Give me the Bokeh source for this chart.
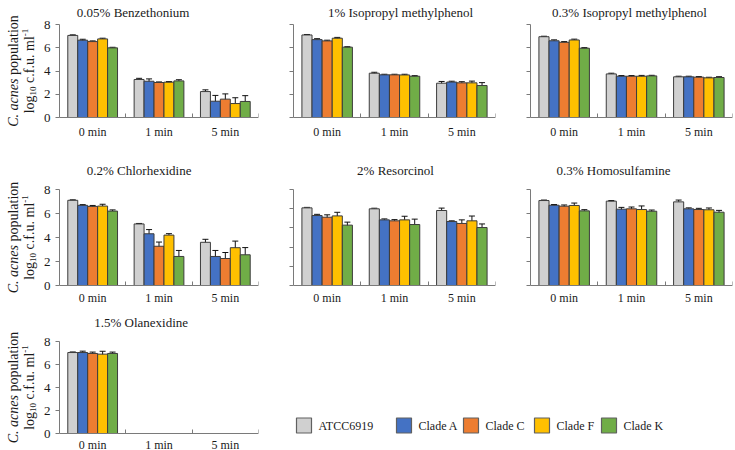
import math
from bokeh.plotting import figure
from bokeh.models import Range1d, FixedTicker, ColumnDataSource, Whisker, TeeHead
from bokeh.layouts import column, row
from bokeh.embed import file_html
from bokeh.resources import INLINE
from bokeh.core.properties import value

# ---------------- data ----------------
time_labels = ["0 min", "1 min", "5 min"]
strains = ["ATCC6919", "Clade A", "Clade C", "Clade F", "Clade K"]
colors = ["#D0D0D0", "#4472C4", "#ED7D31", "#FFC000", "#70AD47"]

# mean log10 c.f.u./ml per strain (rows) at 0, 1, 5 min ; sd likewise
benz_mean = [[7.06, 3.27, 2.23], [6.65, 3.12, 1.40], [6.53, 3.01, 1.58], [6.76, 3.04, 1.20], [5.99, 3.15, 1.38]]
benz_sd = [[0.05, 0.10, 0.15], [0.08, 0.20, 0.50], [0.06, 0.05, 0.45], [0.06, 0.05, 0.50], [0.05, 0.10, 0.50]]

ipmp1_mean = [[7.10, 3.81, 2.95], [6.70, 3.67, 3.05], [6.59, 3.67, 2.98], [6.82, 3.66, 2.98], [6.05, 3.55, 2.75]]
ipmp1_sd = [[0.04, 0.08, 0.15], [0.08, 0.05, 0.07], [0.06, 0.05, 0.10], [0.07, 0.06, 0.15], [0.04, 0.05, 0.25]]

ipmp03_mean = [[6.95, 3.75, 3.50], [6.60, 3.55, 3.50], [6.47, 3.55, 3.47], [6.67, 3.55, 3.41], [5.96, 3.58, 3.44]]
ipmp03_sd = [[0.04, 0.06, 0.05], [0.08, 0.06, 0.05], [0.06, 0.06, 0.05], [0.07, 0.07, 0.05], [0.05, 0.05, 0.07]]

chx_mean = [[7.10, 5.13, 3.60], [6.68, 4.31, 2.42], [6.59, 3.27, 2.25], [6.62, 4.20, 3.15], [6.20, 2.42, 2.56]]
chx_sd = [[0.04, 0.04, 0.25], [0.06, 0.35, 0.50], [0.08, 0.35, 0.50], [0.15, 0.12, 0.55], [0.10, 0.50, 0.60]]

res_mean = [[6.47, 6.39, 6.25], [5.83, 5.47, 5.33], [5.69, 5.39, 5.17], [5.80, 5.47, 5.39], [5.03, 5.08, 4.83]]
res_sd = [[0.04, 0.05, 0.20], [0.10, 0.08, 0.06], [0.20, 0.10, 0.30], [0.30, 0.30, 0.40], [0.25, 0.45, 0.30]]

hs_mean = [[7.08, 7.03, 6.97], [6.69, 6.36, 6.39], [6.61, 6.39, 6.33], [6.67, 6.33, 6.31], [6.22, 6.19, 6.11]]
hs_sd = [[0.04, 0.05, 0.15], [0.06, 0.15, 0.08], [0.10, 0.15, 0.10], [0.20, 0.30, 0.15], [0.10, 0.10, 0.15]]

olx_mean = [[7.04, None, None], [7.04, None, None], [6.96, None, None], [6.90, None, None], [6.96, None, None]]
olx_sd = [[0.05, None, None], [0.12, None, None], [0.12, None, None], [0.25, None, None], [0.12, None, None]]

y_ticks = [0, 2, 4, 6, 8]
res_ticks = [0, 1.6, 3.2, 4.8, 6.4, 8]

FONT = "Liberation Serif"
AXIS_COLOR = "#7a7a7a"
TEXT_COLOR = "#1a1a1a"
BAR_LINE = "#3c3c3c"
BW = 0.15
YMAX = 8

# Times New Roman advance widths (per 1000 em) for the y-label glyphs
W_ROMAN = {" ": 250, ".": 250, "-": 333, "0": 500, "1": 500, "C": 667, "a": 444, "c": 444, "e": 444,
           "f": 333, "g": 500, "i": 278, "l": 278, "m": 778, "n": 500, "o": 500, "p": 500, "s": 389,
           "t": 278, "u": 500}
W_ITAL = {" ": 250, ".": 250, "C": 667, "a": 500, "c": 444, "e": 444, "n": 500, "s": 389}


def text_width(s, size, italic=False):
    table = W_ITAL if italic else W_ROMAN
    return sum(table.get(ch, 500) for ch in s) * size / 1000.0


def style_fig(p):
    p.outline_line_color = None
    p.grid.visible = False
    p.background_fill_color = "white"
    p.border_fill_color = "white"


def pixel_fig(width, height):
    """Axis-less helper figure whose data units are canvas pixels (y measured from the bottom)."""
    p = figure(width=width, height=height, x_range=Range1d(0, width), y_range=Range1d(0, height),
               output_backend="svg", toolbar_location=None, title=None, min_border=0,
               x_axis_location=None, y_axis_location=None)
    style_fig(p)
    return p


def make_ylabel_fig(width, height, top_px, axis_px):
    """Two-line rotated y-axis title with italic and sub/superscript parts."""
    p = pixel_fig(width, height)
    center = height - (top_px + axis_px) / 2.0
    lines = [
        (12.5, [("C. acnes", 14, "italic", 0), (" population", 14, "normal", 0)]),
        (29.0, [("log", 14, "normal", 0), ("10", 9, "normal", 3), (" c.f.u. ml", 14, "normal", 0),
                ("-1", 9, "normal", -5)]),
    ]
    xs, ys, texts, sizes, styles = [], [], [], [], []
    for base_x, segs in lines:
        total = sum(text_width(t, s, st == "italic") for t, s, st, _ in segs)
        cum = center - total / 2.0
        for t, s, st, shift in segs:
            stripped = t.lstrip(" ")
            lead = text_width(t[: len(t) - len(stripped)], s, st == "italic")
            xs.append(base_x + shift)
            ys.append(cum + lead)
            texts.append(stripped)
            sizes.append(f"{s}px")
            styles.append(st)
            cum += text_width(t, s, st == "italic")
    src = ColumnDataSource(dict(x=xs, y=ys, text=texts, size=sizes, style=styles))
    p.text(x="x", y="y", text="text", source=src, angle=math.pi / 2, text_align="left",
           text_baseline="alphabetic", text_font=value(FONT), text_font_size="size",
           text_font_style="style", text_color=TEXT_COLOR)
    return p


def make_panel(title, mean, sd, width, height, bl, br, top_px, axis_px, title_cx, title_cy,
               show_labels, standoff, yt=y_ticks):
    # the frame fills the full canvas height; y=0 sits at axis_px, y=8 at top_px (from the top)
    frame_w = width - bl - br
    ppu = (axis_px - top_px) / YMAX
    y_end = YMAX + top_px / ppu
    y_start = -(height - axis_px) / ppu
    p = figure(width=width, height=height, x_range=Range1d(0, 3), y_range=Range1d(y_start, y_end),
               output_backend="svg", toolbar_location=None, title=None,
               min_border_left=bl, min_border_right=br, min_border_top=0, min_border_bottom=0)
    style_fig(p)

    xs, tops, fills, up, lo, wx = [], [], [], [], [], []
    for j in range(len(strains)):
        for i in range(len(time_labels)):
            v = mean[j][i]
            if v is None:
                continue
            x = i + 0.5 + (j - 2) * BW
            xs.append(x)
            tops.append(v)
            fills.append(colors[j])
            e = sd[j][i]
            if e is not None:
                wx.append(x)
                up.append(v + e)
                lo.append(v - e)
    src = ColumnDataSource(dict(x=xs, top=tops, fill=fills))
    p.vbar(x="x", top="top", bottom=0, width=BW, fill_color="fill", line_color=BAR_LINE,
           line_width=1, source=src)
    wsrc = ColumnDataSource(dict(x=wx, upper=up, lower=lo))
    p.add_layout(Whisker(base="x", upper="upper", lower="lower", source=wsrc, dimension="height",
                         line_color="#111111", line_width=1,
                         upper_head=TeeHead(size=6, line_color="#111111", line_width=1),
                         lower_head=TeeHead(size=6, line_color="#111111", line_width=1)))

    xa = p.xaxis[0]
    xa.fixed_location = 0
    xa.ticker = FixedTicker(ticks=[0.5, 1.5, 2.5], minor_ticks=[0, 1, 2, 3])
    xa.major_label_overrides = {0.5: time_labels[0], 1.5: time_labels[1], 2.5: time_labels[2]}
    xa.major_tick_in = 0
    xa.major_tick_out = 0
    xa.minor_tick_in = 4
    xa.minor_tick_out = 0
    xa.major_label_standoff = standoff
    xa.axis_line_color = AXIS_COLOR
    xa.minor_tick_line_color = AXIS_COLOR
    xa.major_label_text_font = FONT
    xa.major_label_text_font_size = "12px"
    xa.major_label_text_color = TEXT_COLOR

    ya = p.yaxis[0]
    ya.bounds = (0, YMAX)
    ya.ticker = FixedTicker(ticks=yt, minor_ticks=[])
    ya.major_tick_in = 0
    ya.major_tick_out = 4
    ya.minor_tick_out = 0
    ya.minor_tick_in = 0
    ya.axis_line_color = AXIS_COLOR
    ya.major_tick_line_color = AXIS_COLOR
    ya.major_label_standoff = 5
    ya.major_label_text_font = FONT
    ya.major_label_text_font_size = "13px"
    ya.major_label_text_color = TEXT_COLOR
    if not show_labels:
        ya.major_label_overrides = {t: "" for t in yt}

    # panel title, placed inside the (extended) frame above the y-axis top
    tx = (title_cx - bl) / frame_w * 3
    ty = y_end - title_cy / ppu
    p.text(x=[tx], y=[ty], text=[title], text_align="center", text_baseline="middle",
           text_font=value(FONT), text_font_size=value("13px"), text_color=TEXT_COLOR)
    return p


YL_W = 40
# row 1 (height 150): y=8 at 24 px, y=0 at 117 px
H1, T1, A1 = 150, 24, 117
y11 = make_ylabel_fig(YL_W, H1, T1, A1)
p11 = make_panel("0.05% Benzethonium", benz_mean, benz_sd, 230, H1, 18, 12, T1, A1, 132 - YL_W, 12, True, 7)
p12 = make_panel("1% Isopropyl methylphenol", ipmp1_mean, ipmp1_sd, 240, H1, 23, 15, T1, A1, 107 + 23, 12, False, 7)
p13 = make_panel("0.3% Isopropyl methylphenol", ipmp03_mean, ipmp03_sd, 225, H1, 20, 3, T1, A1, 99 + 20, 12, False, 7)
# row 2 (height 158)
H2, T2, A2 = 158, 39, 135
y21 = make_ylabel_fig(YL_W, H2, T2, A2)
p21 = make_panel("0.2% Chlorhexidine", chx_mean, chx_sd, 230, H2, 18, 12, T2, A2, 138 - YL_W, 20, True, 5)
p22 = make_panel("2% Resorcinol", res_mean, res_sd, 240, H2, 23, 15, T2, A2, 102 + 23, 20, False, 5, res_ticks)
p23 = make_panel("0.3% Homosulfamine", hs_mean, hs_sd, 225, H2, 20, 3, T2, A2, 83 + 20, 20, False, 5)
# row 3 (height 142)
H3, T3, A3 = 142, 33, 125
y31 = make_ylabel_fig(YL_W, H3, T3, A3)
p31 = make_panel("1.5% Olanexidine", olx_mean, olx_sd, 230, H3, 18, 12, T3, A3, 140 - YL_W, 14, True, 4)

# legend panel (drawn in pixel coordinates of its own figure)
LW = 465
pl = pixel_fig(LW, H3)
legend_left = [26, 126, 193, 264, 331]
SW = 15
LEG_Y = 25
pl.rect(x=[l + SW / 2 for l in legend_left], y=[LEG_Y] * len(strains), width=SW, height=SW,
        fill_color=colors, line_color="#606060", line_width=1.2)
pl.text(x=[l + SW + 7 for l in legend_left], y=[LEG_Y] * len(strains), text=strains,
        text_align="left", text_baseline="middle", text_font=value(FONT),
        text_font_size=value("12px"), text_color=TEXT_COLOR)

layout = column(row(y11, p11, p12, p13), row(y21, p21, p22, p23), row(y31, p31, pl))

open("out.html", "w").write(file_html(layout, INLINE))
